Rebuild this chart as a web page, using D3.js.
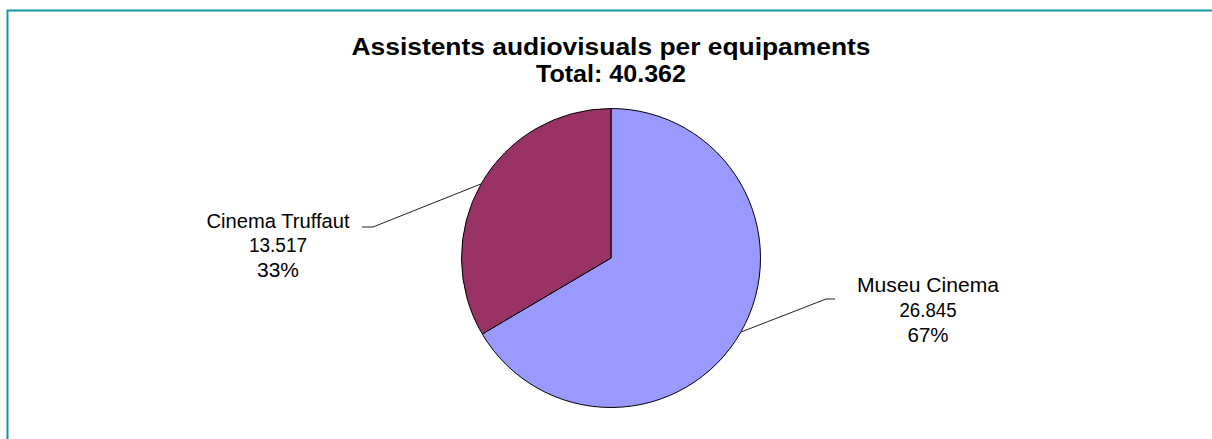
<!DOCTYPE html>
<html>
<head>
<meta charset="utf-8">
<script src="https://cdn.jsdelivr.net/npm/d3@7"></script>
<style>
  html, body { margin: 0; padding: 0; background: #fff; }
  svg { display: block; }
  text { font-family: "Liberation Sans", Arial, sans-serif; }
</style>
</head>
<body>
<svg id="chart" width="1212" height="439"></svg>
<script>
// ---- data ----
const titleLines = ["Assistents audiovisuals per equipaments", "Total: 40.362"];
const categories = ["Museu Cinema", "Cinema Truffaut"];
const values = [26845, 13517];
const valueLabels = ["26.845", "13.517"];
const percentLabels = ["67%", "33%"];
const colors = ["#9999ff", "#993366"];

// ---- layout ----
const W = 1212, H = 439;
const cx = 611, cy = 258, R = 149.5;
const titleWidths = [519, 150];
const titleBaselines = [55, 82];
// label anchor (elbow) and text centre for each slice, plus line widths
const labelLayout = [
  { elbow: [826, 299], end: [835, 299], tx: 928, ty: 292, widths: [142, 57, 41] },
  { elbow: [373, 227], end: [362, 227], tx: 278, ty: 227.5, widths: [143, 58, 42] }
];

const svg = d3.select("#chart");

// frame border (top + left)
svg.append("path")
  .attr("d", `M7.5,${H} L7.5,10.5 L${W},10.5`)
  .attr("fill", "none")
  .attr("stroke", "#1791aa")
  .attr("stroke-width", 2);

// title
titleLines.forEach((t, i) => {
  svg.append("text")
    .attr("x", cx)
    .attr("y", titleBaselines[i])
    .attr("text-anchor", "middle")
    .attr("font-weight", "bold")
    .attr("font-size", 23)
    .attr("fill", "#000")
    .attr("textLength", titleWidths[i])
    .attr("lengthAdjust", "spacingAndGlyphs")
    .text(t);
});

// pie
const pie = d3.pie().sort(null).value(d => d)(values);
const arc = d3.arc().innerRadius(0).outerRadius(R);
const g = svg.append("g").attr("transform", `translate(${cx},${cy})`);
g.selectAll("path.slice")
  .data(pie)
  .join("path")
  .attr("class", "slice")
  .attr("d", arc)
  .attr("fill", (d, i) => colors[i])
  .attr("stroke", "#000")
  .attr("stroke-width", 1);

// leader lines and labels
pie.forEach((d, i) => {
  const a = (d.startAngle + d.endAngle) / 2;
  const p0 = [cx + R * Math.sin(a), cy - R * Math.cos(a)];
  const L = labelLayout[i];
  svg.append("polyline")
    .attr("points", [p0, L.elbow, L.end].map(p => p.join(",")).join(" "))
    .attr("fill", "none")
    .attr("stroke", "#222")
    .attr("stroke-width", 1);
  [categories[i], valueLabels[i], percentLabels[i]].forEach((s, j) => {
    svg.append("text")
      .attr("x", L.tx)
      .attr("y", L.ty + j * 24.8)
      .attr("text-anchor", "middle")
      .attr("font-size", 20.5)
      .attr("fill", "#000")
      .attr("textLength", L.widths[j])
      .attr("lengthAdjust", "spacingAndGlyphs")
      .text(s);
  });
});
</script>
</body>
</html>
